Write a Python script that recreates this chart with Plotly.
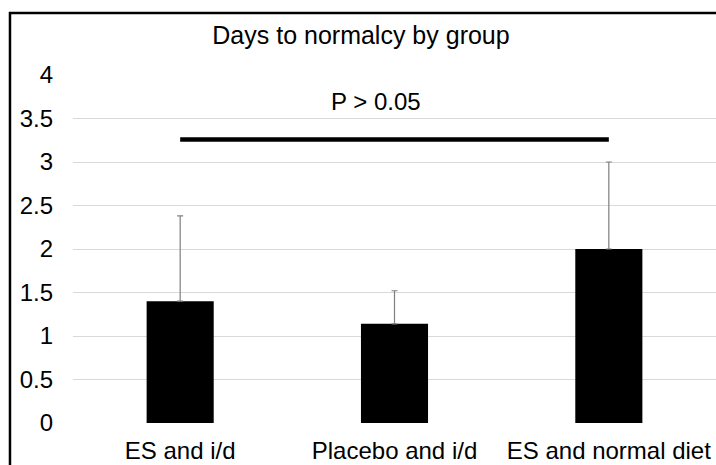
import plotly.graph_objects as go

categories = ["ES and i/d", "Placebo and i/d", "ES and normal diet"]
days_mean = [1.40, 1.14, 2.00]
days_err_plus = [0.98, 0.38, 1.00]
y_ticks = [0, 0.5, 1, 1.5, 2, 2.5, 3, 3.5, 4]
y_tick_labels = ["0", "0.5", "1", "1.5", "2", "2.5", "3", "3.5", "4"]
sig_label = "P > 0.05"
sig_level = 3.26
sig_text_level = 3.69

FONT = "Liberation Sans, Arial, sans-serif"

fig = go.Figure()
fig.add_trace(go.Bar(
    x=categories, y=days_mean, width=0.313,
    marker=dict(color="black", line=dict(width=0)),
    error_y=dict(type="data", array=days_err_plus, arrayminus=[0]*len(days_mean),
                 symmetric=False, color="#7f7f7f", thickness=1.2, width=3),
    showlegend=False,
))

fig.add_shape(type="line", xref="x", yref="y",
              x0=categories[0], x1=categories[-1], y0=sig_level, y1=sig_level,
              line=dict(color="black", width=4.5))
fig.add_annotation(x=0.914, y=sig_text_level, xref="x", yref="y", text=sig_label,
                   showarrow=False, font=dict(family=FONT, size=24, color="black"))

# outer frame
fig.add_shape(type="rect", xref="paper", yref="paper",
              x0=-0.098, x1=1.2, y0=-0.3, y1=1.178,
              line=dict(color="black", width=2.5), fillcolor="rgba(0,0,0,0)")

fig.update_layout(
    width=716, height=465,
    margin=dict(l=73, r=0, t=75, b=42),
    paper_bgcolor="white", plot_bgcolor="white",
    font=dict(family=FONT, size=24, color="black"),
    title=dict(text="Days to normalcy by group", x=361/716, xanchor="center",
               y=1 - 35/465, yanchor="middle", font=dict(family=FONT, size=25, color="black")),
    bargap=0.69,
)
fig.update_yaxes(range=[0, 4], tickvals=y_ticks, ticktext=y_tick_labels,
                 showgrid=True, gridcolor="#d9d9d9", gridwidth=1,
                 zeroline=False, showline=False, ticks="", ticklabelstandoff=19,
                 tickfont=dict(family=FONT, size=24, color="black"))
fig.update_xaxes(showgrid=False, showline=False, ticks="", ticklabelstandoff=11,
                 tickfont=dict(family=FONT, size=24, color="black"))

fig.write_html(
    "out.html",
    config={"displayModeBar": False},
    post_script="document.body.style.margin='0';document.body.style.overflow='hidden';",
)
